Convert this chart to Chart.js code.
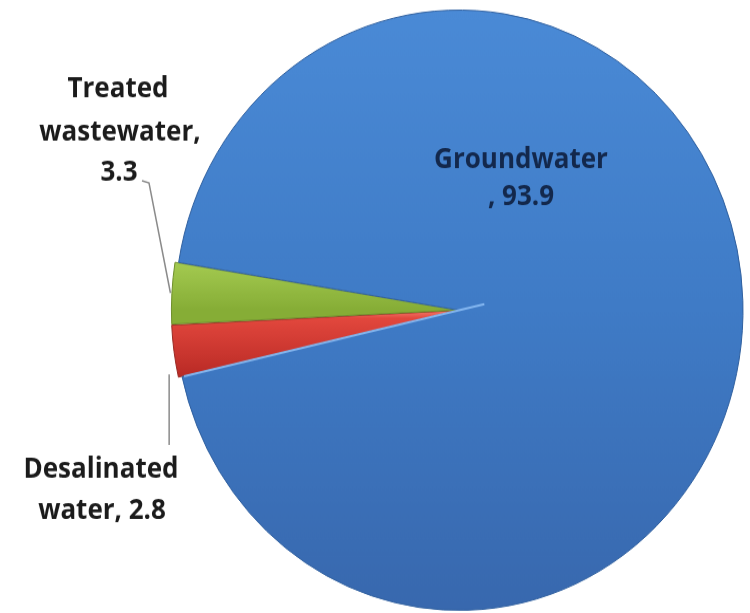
<!DOCTYPE html>
<html>
<head>
<meta charset="utf-8">
<script src="https://cdn.jsdelivr.net/npm/chart.js@4/dist/chart.umd.min.js"></script>
<style>
  html, body { margin: 0; padding: 0; background: #ffffff; overflow: hidden; }
  body { width: 750px; height: 613px; }
  /* the pie is drawn slightly taller than wide */
  #wrap { width: 750px; height: 580px; transform: scaleY(1.0569); transform-origin: 0 0; }
</style>
</head>
<body>
<div id="wrap"><canvas id="c" width="750" height="580"></canvas></div>
<script>
// Water supply by source (%)
const categories = ['Desalinated water', 'Treated wastewater', 'Groundwater'];
const shares = [2.8, 3.3, 93.9];
const labelLines = [
  ['Desalinated', 'water, ' + shares[0]],
  ['Treated', 'wastewater,', String(shares[1])],
  ['Groundwater', ', ' + shares[2]]
];
const explode = [8, 8, 0];

const PIE_RADIUS = 284;

function pieCenter(chart) {
  const a = chart.chartArea;
  return { cx: (a.left + a.right) / 2, cy: (a.top + a.bottom) / 2 };
}

function sliceFill(ctx) {
  const chart = ctx.chart;
  const fallback = ['#d8403a', '#9cc24a', '#3f7cc8'][ctx.dataIndex];
  if (!chart.chartArea) return fallback;
  const { cy } = pieCenter(chart);
  const g = chart.ctx;
  let grad;
  if (ctx.dataIndex === 2) {
    grad = g.createLinearGradient(0, cy - PIE_RADIUS, 0, cy + PIE_RADIUS);
    grad.addColorStop(0, '#4a8ad6');
    grad.addColorStop(0.5, '#3f7bc6');
    grad.addColorStop(1, '#3868ae');
  } else if (ctx.dataIndex === 1) {
    grad = g.createLinearGradient(0, cy - PIE_RADIUS * 0.19, 0, cy);
    grad.addColorStop(0, '#c4e877');
    grad.addColorStop(0.12, '#a6cc52');
    grad.addColorStop(1, '#86ad36');
  } else {
    grad = g.createLinearGradient(0, cy, 0, cy + PIE_RADIUS * 0.22);
    grad.addColorStop(0, '#f47a6c');
    grad.addColorStop(0.12, '#e2473d');
    grad.addColorStop(1, '#b92a25');
  }
  return grad;
}

// Category labels with leader lines
const sliceLabels = {
  id: 'sliceLabels',
  afterDatasetsDraw(chart) {
    const g = chart.ctx;
    const arcs = chart.getDatasetMeta(0).data;
    const visual = (arc, i) => {
      const mid = (arc.startAngle + arc.endAngle) / 2;
      return { x: arc.x + Math.cos(mid) * explode[i], y: arc.y + Math.sin(mid) * explode[i] };
    };
    g.save();

    // light bevel along the lower straight edge of the large slice
    const gw = arcs[2];
    const a1 = gw.endAngle;
    g.strokeStyle = 'rgba(140,190,245,0.9)';
    g.lineWidth = 2;
    g.beginPath();
    g.moveTo(gw.x - Math.cos(a1) * 26, gw.y - Math.sin(a1) * 26);
    g.lineTo(gw.x + Math.cos(a1) * (gw.outerRadius - 2), gw.y + Math.sin(a1) * (gw.outerRadius - 2));
    g.stroke();

    g.textAlign = 'center';
    g.textBaseline = 'alphabetic';
    g.font = 'bold 26px "Open Sans"';

    // Groundwater, inside its slice
    g.fillStyle = '#13284c';
    g.fillText(labelLines[2][0], 521, 159);
    g.fillText(labelLines[2][1], 521, 194);

    // Treated wastewater, above left
    g.fillStyle = '#1b1b1b';
    g.fillText(labelLines[1][0], 118, 92);
    g.fillText(labelLines[1][1], 120, 133);
    g.fillText(labelLines[1][2], 119, 171);

    // Desalinated water, below left
    g.fillText(labelLines[0][0], 101, 452);
    g.fillText(labelLines[0][1], 102, 491);

    // leader lines
    g.strokeStyle = '#8a8a8a';
    g.lineWidth = 1.5;
    const tw = arcs[1];
    const tc = visual(tw, 1);
    const tMid = (tw.startAngle + tw.endAngle) / 2;
    g.beginPath();
    g.moveTo(142, 171);
    g.lineTo(149, 173);
    g.lineTo(tc.x + Math.cos(tMid) * (tw.outerRadius - 3), tc.y + Math.sin(tMid) * (tw.outerRadius - 3));
    g.stroke();

    const dw = arcs[0];
    const dc = visual(dw, 0);
    const dA = dw.startAngle + (dw.endAngle - dw.startAngle) * 0.2;
    const px = dc.x + Math.cos(dA) * (dw.outerRadius + 3);
    const py = dc.y + Math.sin(dA) * (dw.outerRadius + 3);
    g.beginPath();
    g.moveTo(px, py + 6);
    g.lineTo(px, 421);
    g.stroke();
    g.restore();
  }
};

new Chart(document.getElementById('c'), {
  type: 'pie',
  data: {
    labels: categories,
    datasets: [{
      data: shares,
      backgroundColor: sliceFill,
      borderColor: ['#9a2a24', '#6f8f2c', '#30609f'],
      borderWidth: 1,
      offset: explode,
      clip: false
    }]
  },
  options: {
    responsive: false,
    animation: false,
    rotation: 257.2,
    radius: PIE_RADIUS,
    layout: { padding: { left: 175, right: 7, top: 7, bottom: 0 } },
    plugins: {
      legend: { display: false },
      tooltip: { enabled: false }
    }
  },
  plugins: [sliceLabels]
});
</script>
</body>
</html>
